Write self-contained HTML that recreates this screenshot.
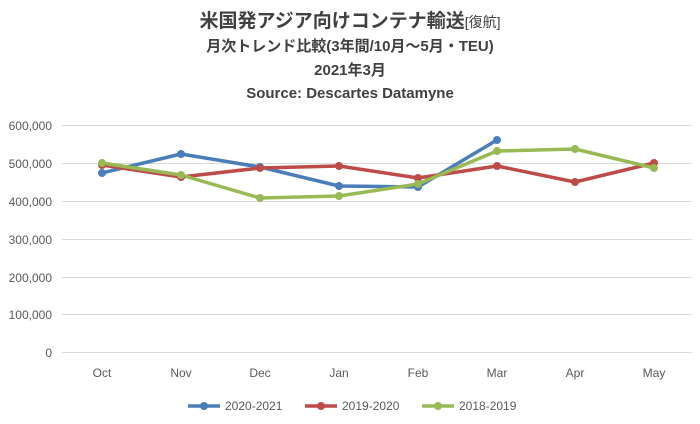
<!DOCTYPE html>
<html><head><meta charset="utf-8"><style>body{margin:0;background:#fff}</style></head><body>
<svg width="700" height="419" xmlns="http://www.w3.org/2000/svg" font-family="Liberation Sans, Noto Sans CJK JP, sans-serif">
<g text-anchor="middle" font-weight="bold" fill="#404040">
<text x="350" y="27" font-size="19">米国発アジア向けコンテナ輸送<tspan font-size="14" font-weight="normal">[復航]</tspan></text>
<text x="350" y="51" font-size="15">月次トレンド比較(3年間/10月～5月・TEU)</text>
<text x="350" y="75" font-size="15">2021年3月</text>
<text x="350" y="98" font-size="15">Source: Descartes Datamyne</text>
</g>
<g stroke="#d9d9d9" stroke-width="1">
<line x1="62" x2="692" y1="125.5" y2="125.5"/><line x1="62" x2="692" y1="163.5" y2="163.5"/>
<line x1="62" x2="692" y1="201.5" y2="201.5"/><line x1="62" x2="692" y1="239.5" y2="239.5"/>
<line x1="62" x2="692" y1="277.5" y2="277.5"/><line x1="62" x2="692" y1="314.5" y2="314.5"/>
<line x1="62" x2="692" y1="352.5" y2="352.5"/>
</g>
<g font-size="12" fill="#595959" text-anchor="end">
<text x="52" y="130">600,000</text><text x="52" y="168">500,000</text><text x="52" y="206">400,000</text>
<text x="52" y="244">300,000</text><text x="52" y="282">200,000</text><text x="52" y="319">100,000</text><text x="52" y="357">0</text>
</g>
<g font-size="12" fill="#595959" text-anchor="middle">
<text x="102" y="377">Oct</text><text x="181" y="377">Nov</text><text x="260" y="377">Dec</text><text x="339" y="377">Jan</text>
<text x="418" y="377">Feb</text><text x="497" y="377">Mar</text><text x="575" y="377">Apr</text><text x="654" y="377">May</text>
</g>
<g fill="none" stroke-width="3.5" stroke-linejoin="round">
<polyline stroke="#4a7ebb" points="102,173 181,154 260,167 339,186 418,187 497,140"/>
<polyline stroke="#be4b48" points="102,165 181,177 260,168 339,166 418,178 497,166 575,182 654,163"/>
<polyline stroke="#98b954" points="102,163 181,175 260,198 339,196 418,184 497,151 575,149 654,168"/>
</g>
<g fill="#4a7ebb"><circle cx="102" cy="173" r="4"/><circle cx="181" cy="154" r="4"/><circle cx="260" cy="167" r="4"/><circle cx="339" cy="186" r="4"/><circle cx="418" cy="187" r="4"/><circle cx="497" cy="140" r="4"/></g>
<g fill="#be4b48"><circle cx="102" cy="165" r="4"/><circle cx="181" cy="177" r="4"/><circle cx="260" cy="168" r="4"/><circle cx="339" cy="166" r="4"/><circle cx="418" cy="178" r="4"/><circle cx="497" cy="166" r="4"/><circle cx="575" cy="182" r="4"/><circle cx="654" cy="163" r="4"/></g>
<g fill="#98b954"><circle cx="102" cy="163" r="4"/><circle cx="181" cy="175" r="4"/><circle cx="260" cy="198" r="4"/><circle cx="339" cy="196" r="4"/><circle cx="418" cy="184" r="4"/><circle cx="497" cy="151" r="4"/><circle cx="575" cy="149" r="4"/><circle cx="654" cy="168" r="4"/></g>
<g font-size="12" fill="#595959">
<line x1="188" x2="220" y1="406" y2="406" stroke="#4a7ebb" stroke-width="3.5"/><circle cx="204" cy="406" r="4" fill="#4a7ebb"/><text x="225" y="410">2020-2021</text>
<line x1="305" x2="337" y1="406" y2="406" stroke="#be4b48" stroke-width="3.5"/><circle cx="321" cy="406" r="4" fill="#be4b48"/><text x="342" y="410">2019-2020</text>
<line x1="422" x2="454" y1="406" y2="406" stroke="#98b954" stroke-width="3.5"/><circle cx="438" cy="406" r="4" fill="#98b954"/><text x="459" y="410">2018-2019</text>
</g>
</svg>
</body></html>
